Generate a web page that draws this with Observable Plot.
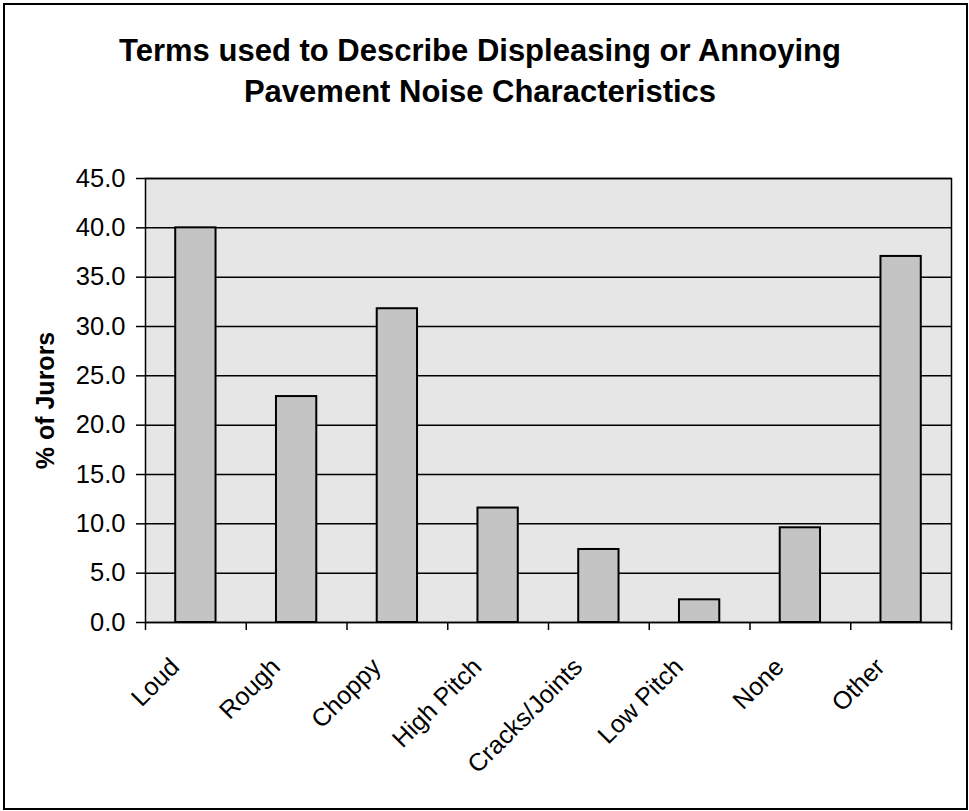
<!DOCTYPE html>
<html>
<head>
<meta charset="utf-8">
<script src="https://cdn.jsdelivr.net/npm/d3@7"></script>
<script src="https://cdn.jsdelivr.net/npm/@observablehq/plot@0.6"></script>
<style>
  html, body { margin: 0; padding: 0; background: #fff; }
  #wrap { position: relative; width: 969px; height: 811px; overflow: hidden; font-family: "Liberation Sans", Arial, sans-serif; }
  #border { position: absolute; left: 3px; top: 3px; width: 961px; height: 803px; border: 2px solid #000; pointer-events: none; }
  #title { box-sizing: border-box; height: 150px; padding-top: 30px; padding-right: 9px; text-align: center; font-weight: bold; font-size: 31px; line-height: 41px; color: #000; }
  #chart svg { display: block; }
</style>
</head>
<body>
<div id="wrap">
  <div id="title">Terms used to Describe Displeasing or Annoying<br>Pavement Noise Characteristics</div>
  <div id="chart"></div>
  <div id="border"></div>
</div>
<script>
const categories = ["Loud", "Rough", "Choppy", "High Pitch", "Cracks/Joints", "Low Pitch", "None", "Other"];
const values = [40.0, 22.9, 31.8, 11.6, 7.4, 2.3, 9.6, 37.1];
const yTicks = [0, 5, 10, 15, 20, 25, 30, 35, 40, 45];
const yLabel = "% of Jurors";

const data = categories.map((c, i) => ({cat: c, i, value: values[i]}));
const boundaries = d3.range(categories.length + 1);

const chart = Plot.plot({
  width: 969,
  height: 661,
  marginTop: 28,
  marginBottom: 189,
  marginLeft: 145,
  marginRight: 18,
  style: {fontFamily: "'Liberation Sans', Arial, sans-serif", color: "#000", background: "transparent"},
  x: {domain: [0, categories.length], axis: null},
  y: {domain: [0, 45], axis: null},
  marks: [
    Plot.frame({fill: "#e6e6e6", stroke: null}),
    Plot.ruleY(yTicks, {stroke: "#000", strokeWidth: 1.5}),
    Plot.rect(data, {x1: d => d.i + 0.3, x2: d => d.i + 0.7, y1: 0, y2: "value", fill: "#c4c4c4", stroke: "#000", strokeWidth: 2}),
    Plot.frame({stroke: "#000", strokeWidth: 1.5}),
    Plot.axisY({ticks: yTicks, tickFormat: d3.format(".1f"), tickSize: 9, tickPadding: 11, fontSize: 25.5, label: null, strokeWidth: 1.5}),
    Plot.axisX({ticks: boundaries, tickFormat: () => "", tickSize: 8, label: null, strokeWidth: 1.5}),
    Plot.text(data, {x: d => d.i + 0.5, text: "cat", frameAnchor: "bottom", rotate: -45, textAnchor: "end", lineAnchor: "bottom", dx: -15, dy: 46, fontSize: 25, fill: "#000"}),
    Plot.text([yLabel], {text: d => d, frameAnchor: "left", textAnchor: "middle", rotate: -90, dx: -100, fontSize: 25, fontWeight: "bold", fill: "#000"})
  ]
});
document.getElementById("chart").appendChild(chart);
</script>
</body>
</html>
